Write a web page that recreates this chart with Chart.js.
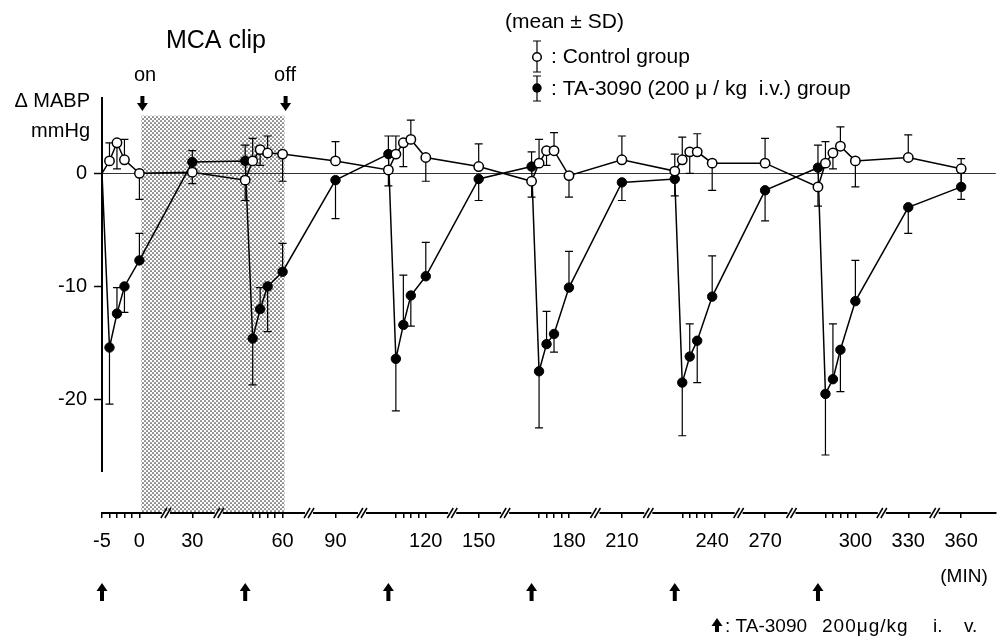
<!DOCTYPE html>
<html>
<head>
<meta charset="utf-8">
<script src="https://cdn.jsdelivr.net/npm/chart.js@4.4.1/dist/chart.umd.min.js"></script>
<style>
  body { margin: 0; background: #fff; }
  #wrap { width: 1002px; height: 640px; }
</style>
</head>
<body>
<div id="wrap"><canvas id="chart"></canvas></div>
<script>
// sampling times (min) and change of mean arterial blood pressure (mmHg)
const minutes = [-5, -4, -3, -2, 0, 30,
                 55, 56, 57, 58, 60, 90,
                 115, 116, 117, 118, 120, 150,
                 175, 176, 177, 178, 180, 210,
                 235, 236, 237, 238, 240, 270,
                 295, 296, 297, 298, 300, 330, 360];

const controlMean = [0, 1.1, 2.7, 1.2, 0.0, 0.1,
                     -0.6, 1.1, 2.1, 1.8, 1.7, 1.1,
                     0.3, 1.7, 2.7, 3.0, 1.4, 0.6,
                     -0.7, 0.9, 2.0, 2.0, -0.2, 1.2,
                     0.2, 1.2, 1.9, 1.9, 0.9, 0.9,
                     -1.2, 0.9, 1.8, 2.4, 1.1, 1.4, 0.4];
// SD, the sign tells on which side the bar is drawn
const controlSD = [0, 1.6, -2.3, 1.8, -2.3, 1.9,
                   -1.8, 2.0, -1.4, 1.5, -2.4, 1.7,
                   -1.4, 1.6, -2.1, 1.7, -2.1, 2.0,
                   -1.4, 2.1, -1.3, 1.6, -1.9, 2.1,
                   -2.2, 2.0, -1.9, 1.6, -2.4, 2.2,
                   -1.7, 1.9, -1.4, 1.7, -2.3, 2.0, -2.7];

const taMean = [0, -15.4, -12.4, -10.0, -7.7, 1.0,
                1.1, -14.6, -12.0, -10.0, -8.7, -0.6,
                1.7, -16.4, -13.4, -10.8, -9.1, -0.5,
                0.6, -17.5, -15.1, -14.2, -10.1, -0.8,
                -0.5, -18.5, -16.2, -14.8, -10.9, -1.5,
                0.5, -19.5, -18.2, -15.6, -11.3, -3.0, -1.2];
const taSD = [0, -5.0, 2.3, -2.3, 2.4, -1.9,
              1.4, -4.1, 1.9, -4.0, 2.5, -3.4,
              1.6, -4.6, 4.4, -2.7, 3.0, -1.9,
              1.3, -5.0, 2.9, -1.6, 3.2, -1.6,
              2.2, -4.7, 2.9, -3.7, 3.6, -2.7,
              2.0, -5.4, 4.9, -3.7, 3.6, -2.3, 2.5];

const doseTimes = [-5, 55, 115, 175, 235, 295];
const clipTimes = [0, 60];
const labelMinutes = [-5, 0, 30, 60, 90, 120, 150, 180, 210, 240, 270, 300, 330, 360];
const yTicks = [0, -10, -20];

// broken time axis: the 5 min after each dose at full scale, the 30 min stretches squeezed
const WINDOW = 5, GAP = 7.07, CYCLE = WINDOW + 2 * GAP;
function axisPos(t) {
  const k = Math.min(5, Math.floor((t + 5) / 60));
  const local = t + 5 - 60 * k;
  const base = k * CYCLE;
  if (local <= WINDOW) return base + local;
  if (local <= 35) return base + WINDOW + (local - 5) / 30 * GAP;
  return base + WINDOW + GAP + Math.min(1, (local - 35) / 25) * GAP;
}

// every minute inside the dose windows gets a small tick
const tickMinutes = labelMinutes.slice();
doseTimes.forEach(t => { for (let m = t + 1; m < t + 5; m++) tickMinutes.push(m); });
tickMinutes.sort((a, b) => a - b);

const FONT = '"Liberation Sans", Arial, sans-serif';

function toPoints(values) {
  return values.map((v, i) => ({ x: axisPos(minutes[i]), y: v }));
}

function stipple(ctx) {
  const c = document.createElement('canvas');
  c.width = 4; c.height = 4;
  const g = c.getContext('2d');
  g.fillStyle = '#fff';
  g.fillRect(0, 0, 4, 4);
  g.fillStyle = '#333';
  g.beginPath(); g.arc(1, 1, 0.85, 0, Math.PI * 2); g.fill();
  g.beginPath(); g.arc(3, 3, 0.85, 0, Math.PI * 2); g.fill();
  return ctx.createPattern(c, 'repeat');
}

function arrow(ctx, x, tipY, dir, len) {
  // dir 1 = pointing down, -1 = pointing up
  const head = 8, hw = 5.5, sw = 2;
  const baseY = tipY - dir * head;
  const tailY = tipY - dir * len;
  ctx.beginPath();
  ctx.moveTo(x, tipY);
  ctx.lineTo(x - hw, baseY);
  ctx.lineTo(x - sw, baseY);
  ctx.lineTo(x - sw, tailY);
  ctx.lineTo(x + sw, tailY);
  ctx.lineTo(x + sw, baseY);
  ctx.lineTo(x + hw, baseY);
  ctx.closePath();
  ctx.fill();
}

function errorBar(ctx, x, y0, y1) {
  ctx.beginPath();
  ctx.moveTo(x, y0); ctx.lineTo(x, y1);
  ctx.moveTo(x - 4, y1); ctx.lineTo(x + 4, y1);
  ctx.stroke();
}

const decorations = {
  id: 'decorations',
  beforeDraw(chart) {
    const { ctx, chartArea, scales } = chart;
    const x0 = scales.x.getPixelForValue(axisPos(clipTimes[0]));
    const x1 = scales.x.getPixelForValue(axisPos(clipTimes[1]));
    const top = scales.y.getPixelForValue(5.1);
    ctx.save();
    ctx.fillStyle = stipple(ctx);
    ctx.fillRect(x0 + 2, top, x1 - x0, chartArea.bottom - top);
    ctx.restore();
  },
  beforeDatasetsDraw(chart) {
    const { ctx, scales } = chart;
    ctx.save();
    ctx.strokeStyle = '#000';
    ctx.lineWidth = 1.2;
    [controlSD, taSD].forEach((sd, di) => {
      const meta = chart.getDatasetMeta(di);
      const mean = chart.data.datasets[di].data;
      meta.data.forEach((pt, i) => {
        if (!sd[i]) return;
        errorBar(ctx, pt.x, pt.y, scales.y.getPixelForValue(mean[i].y + sd[i]));
      });
    });
    // vertical axis
    ctx.lineWidth = 2;
    ctx.beginPath();
    ctx.moveTo(chart.chartArea.left, scales.y.getPixelForValue(6.75));
    ctx.lineTo(chart.chartArea.left, scales.y.getPixelForValue(-26.4));
    ctx.stroke();
    ctx.restore();
  },
  afterDraw(chart) {
    const { ctx, chartArea, scales } = chart;
    const xs = scales.x;
    const axisY = chartArea.bottom;
    ctx.save();

    // breaks in the time axis
    const breaks = [];
    doseTimes.forEach(t => {
      breaks.push((axisPos(t + 5) + axisPos(t + 35)) / 2);
      breaks.push((axisPos(t + 35) + axisPos(t + 60)) / 2);
    });
    breaks.forEach(u => {
      const x = xs.getPixelForValue(u);
      ctx.fillStyle = '#fff';
      ctx.fillRect(x - 4, axisY - 2, 8, 4);
      ctx.strokeStyle = '#000';
      ctx.lineWidth = 1.5;
      [-2, 2].forEach(o => {
        ctx.beginPath();
        ctx.moveTo(x + o - 3, axisY + 5);
        ctx.lineTo(x + o + 3, axisY - 5);
        ctx.stroke();
      });
    });

    ctx.fillStyle = '#000';
    // clip on / off
    clipTimes.forEach(t => arrow(ctx, xs.getPixelForValue(axisPos(t)) + 3, 111, 1, 15));
    // dosing
    doseTimes.forEach(t => arrow(ctx, xs.getPixelForValue(axisPos(t)), 583, -1, 18));

    ctx.textBaseline = 'alphabetic';
    ctx.textAlign = 'center';
    ctx.font = '25px ' + FONT;
    ctx.fillText('MCA clip', 216, 48);
    ctx.font = '20px ' + FONT;
    ctx.fillText('on', 145, 81);
    ctx.fillText('off', 285, 81);

    ctx.textAlign = 'right';
    ctx.font = '20px ' + FONT;
    ctx.fillText('\u0394 MABP', 90, 107);
    ctx.fillText('mmHg', 90, 137);

    ctx.textAlign = 'center';
    ctx.font = '19px ' + FONT;
    ctx.fillText('(MIN)', 964, 582);

    // legend
    ctx.textAlign = 'left';
    ctx.font = '21px ' + FONT;
    ctx.fillText('(mean \u00b1 SD)', 505, 28);
    ctx.fillText(': Control group', 551, 63);
    ctx.fillText(': TA-3090 (200 \u03bc / kg  i.v.) group', 551, 95);
    ctx.strokeStyle = '#000';
    ctx.lineWidth = 1.2;
    errorBar(ctx, 537, 57, 41);
    errorBar(ctx, 537, 57, 72);
    errorBar(ctx, 537, 88, 76);
    errorBar(ctx, 537, 88, 101);
    ctx.lineWidth = 1.5;
    ctx.beginPath(); ctx.arc(537, 57, 4.3, 0, Math.PI * 2);
    ctx.fillStyle = '#fff'; ctx.fill(); ctx.stroke();
    ctx.beginPath(); ctx.arc(537, 88, 4.7, 0, Math.PI * 2);
    ctx.fillStyle = '#000'; ctx.fill();

    // footnote
    arrow(ctx, 717, 618, -1, 14);
    ctx.font = '19px ' + FONT;
    ctx.fillText(': TA-3090', 725, 632);
    ctx.letterSpacing = '1px';
    ctx.fillText('200\u03bcg/kg', 822, 632);
    ctx.letterSpacing = '0px';
    ctx.fillText('i.', 933, 632);
    ctx.fillText('v.', 964, 632);
    ctx.restore();
  }
};

const markerRadius = ctx => ctx.dataIndex === 0 ? 0 : 4.7;

new Chart(document.getElementById('chart'), {
  type: 'line',
  data: {
    datasets: [{
      label: 'Control group',
      data: toPoints(controlMean),
      borderColor: '#000',
      borderWidth: 1.5,
      backgroundColor: '#fff',
      pointBackgroundColor: '#fff',
      pointBorderColor: '#000',
      pointBorderWidth: 1.5,
      pointRadius: markerRadius,
      tension: 0
    }, {
      label: 'TA-3090 group',
      data: toPoints(taMean),
      borderColor: '#000',
      borderWidth: 1.5,
      backgroundColor: '#000',
      pointBackgroundColor: '#000',
      pointBorderColor: '#000',
      pointBorderWidth: 1,
      pointRadius: markerRadius,
      tension: 0
    }]
  },
  options: {
    responsive: true,
    maintainAspectRatio: false,
    animation: false,
    layout: { padding: { top: 97, right: 4, left: 0, bottom: 0 } },
    plugins: { legend: { display: false }, tooltip: { enabled: false } },
    scales: {
      x: {
        type: 'linear',
        min: 0,
        max: 119.47,
        afterFit: s => { s.height = 127; },
        afterBuildTicks: s => {
          s.ticks = tickMinutes.map(m => ({ value: axisPos(m), minute: m }));
        },
        ticks: {
          autoSkip: false,
          maxRotation: 0,
          padding: 11,
          color: '#000',
          font: { family: FONT, size: 20 },
          callback: (v, i, ticks) => {
            const m = ticks[i].minute;
            return labelMinutes.includes(m) ? String(m) : '';
          }
        },
        grid: {
          drawOnChartArea: false,
          tickLength: 5,
          color: '#000',
          lineWidth: 1.5
        },
        border: { display: true, color: '#000', width: 2 }
      },
      y: {
        min: -30.03,
        max: 6.75,
        afterFit: s => { s.width = 102; },
        afterBuildTicks: s => { s.ticks = yTicks.map(v => ({ value: v })); },
        ticks: {
          padding: 7,
          color: '#000',
          font: { family: FONT, size: 20 }
        },
        grid: {
          tickLength: 8,
          tickColor: '#000',
          tickWidth: 1.5,
          color: c => c.tick && c.tick.value === 0 ? '#333' : 'rgba(0,0,0,0)',
          lineWidth: 1
        },
        border: { display: false }
      }
    }
  },
  plugins: [decorations]
});
</script>
</body>
</html>
